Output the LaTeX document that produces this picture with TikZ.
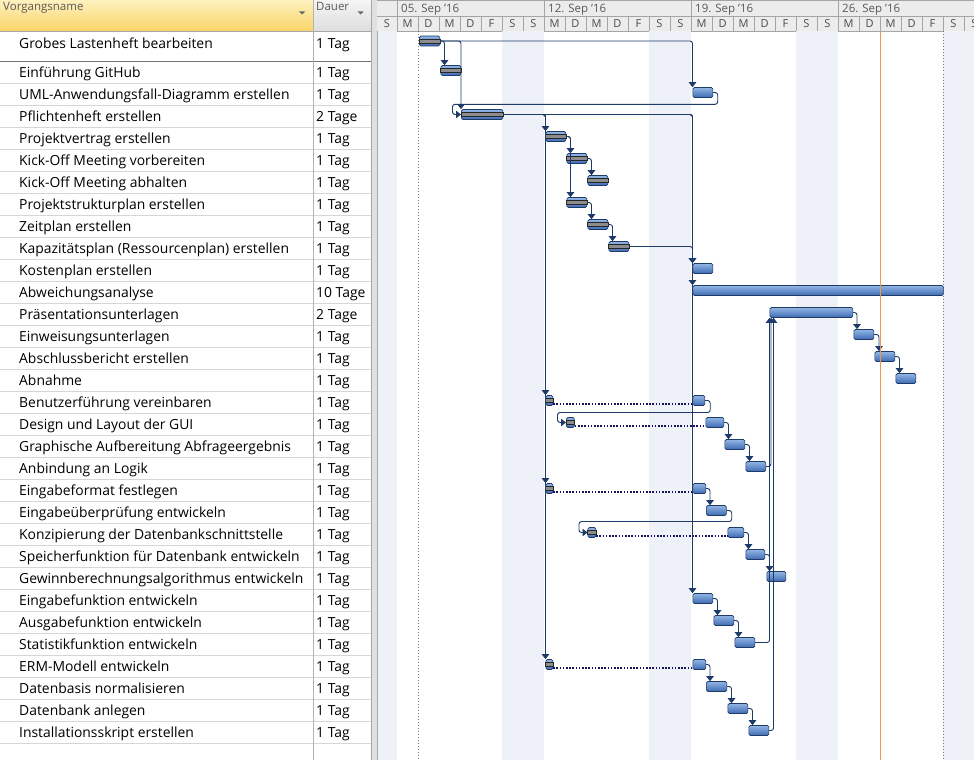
\documentclass[tikz,border=0pt]{standalone}
\usepackage{fontspec}
\setmainfont{Open Sans}
\usetikzlibrary{arrows.meta,positioning}

\definecolor{linkblue}{RGB}{30,58,104}
\definecolor{splitblue}{RGB}{20,20,95}
\definecolor{bartop}{RGB}{146,182,228}
\definecolor{barbot}{RGB}{62,106,178}
\definecolor{baredge}{RGB}{30,58,105}
\definecolor{weekend}{RGB}{238,242,248}
\definecolor{gridgray}{RGB}{212,214,216}
\definecolor{headgray}{RGB}{236,236,236}
\definecolor{headline}{RGB}{165,165,165}
\definecolor{hdrtop}{RGB}{254,242,190}
\definecolor{hdrbot}{RGB}{250,212,104}
\definecolor{todayline}{RGB}{245,150,70}

\begin{document}
\begin{tikzpicture}[x=1pt,y=-1pt,
  bar/.style={draw=baredge, line width=0.7pt, top color=bartop, bottom color=barbot,
    rounded corners=1.5pt, minimum height=10pt, inner sep=0pt, anchor=west},
  stripe/.style={fill=black!45, draw=black!85, line width=0.5pt},
  link/.style={draw=linkblue, line width=0.9pt, rounded corners=2.5pt,
    -{Triangle[width=7.5pt,length=5pt]}},
  split/.style={draw=splitblue, line width=1.9pt, dash pattern=on 1.6pt off 1.6pt},
  task/.style={anchor=base west, inner sep=0pt, font=\fontsize{13.9}{16}\selectfont},
  headtext/.style={anchor=base west, inner sep=0pt, text=black!65, font=\fontsize{11.5}{13}\selectfont},
  daytext/.style={anchor=base, inner sep=0pt, text=black!70, font=\fontsize{11}{13}\selectfont}]
\useasboundingbox (0,0) rectangle (974,760);
\clip (0,0) rectangle (974,760);
\fill[white] (0,0) rectangle (974,760);

% table header
\shade[top color=hdrtop, bottom color=hdrbot] (0,0) rectangle (313,31);
\shade[top color=black!4, bottom color=black!13] (313,0) rectangle (371,31);
\node[headtext] (hname) at (3,11) {Vorgangsname};
\node[headtext] (hdur) at (316,11) {Dauer};
\fill[black!60] (299,11.5) -- (305,11.5) -- (302,14.5) -- cycle;
\fill[black!60] (357.5,11.5) -- (363.5,11.5) -- (360.5,14.5) -- cycle;

% table grid
\foreach \y in {83,105,...,743} \draw[gridgray] (0,\y) -- (371,\y);
\draw[black!35] (0,31) -- (371,31);
\draw[black!55] (0,61) -- (371,61);
\draw[black!30] (313,0) -- (313,760);
\fill[black!12] (371,0) rectangle (377,760);
\draw[black!35] (371,0) -- (371,760);
\draw[black!35] (377,0) -- (377,760);

% timescale
\fill[headgray] (377,0) rectangle (974,31);
\draw[headline] (377,0.5) -- (974,0.5);
\draw[headline] (377,16) -- (974,16);
\draw[headline] (377,31) -- (974,31);
\foreach \x in {397,544,691,838} \draw[headline] (\x,0) -- (\x,16);
\foreach \i in {0,...,28} \draw[headline] (397+21*\i,16) -- (397+21*\i,31);
\node[headtext] (w1) at (401,13) {05. Sep '16};
\node[headtext] (w2) at (548,13) {12. Sep '16};
\node[headtext] (w3) at (695,13) {19. Sep '16};
\node[headtext] (w4) at (842,13) {26. Sep '16};
\node[daytext] at (387,27.5) {S};
\foreach \d [count=\i from 0] in {M,D,M,D,F,S,S,M,D,M,D,F,S,S,M,D,M,D,F,S,S,M,D,M,D,F,S,S}
  \node[daytext] at (407.5+21*\i,27.5) {\d};

% chart background
\fill[weekend] (377.5,31.5) rectangle (397,760);
\fill[weekend] (502,31.5) rectangle (544,760);
\fill[weekend] (649,31.5) rectangle (691,760);
\fill[weekend] (796,31.5) rectangle (838,760);
\fill[weekend] (943,31.5) rectangle (985,760);
\draw[black!50, dash pattern=on 1pt off 2pt] (418.5,31.5) -- (418.5,760);
\draw[black!50, dash pattern=on 1pt off 2pt] (943,31.5) -- (943,760);

% task names
\node[task] (t1) at (19,48.5) {Grobes Lastenheft bearbeiten};
\node[task] (t2) at (19,77.3) {Einführung GitHub};
\node[task] (t3) at (19,99.3) {UML-Anwendungsfall-Diagramm erstellen};
\node[task] (t4) at (19,121.3) {Pflichtenheft erstellen};
\node[task] (t5) at (19,143.3) {Projektvertrag erstellen};
\node[task] (t6) at (19,165.3) {Kick-Off Meeting vorbereiten};
\node[task] (t7) at (19,187.3) {Kick-Off Meeting abhalten};
\node[task] (t8) at (19,209.3) {Projektstrukturplan erstellen};
\node[task] (t9) at (19,231.3) {Zeitplan erstellen};
\node[task] (t10) at (19,253.3) {Kapazitätsplan (Ressourcenplan) erstellen};
\node[task] (t11) at (19,275.3) {Kostenplan erstellen};
\node[task] (t12) at (19,297.3) {Abweichungsanalyse};
\node[task] (t13) at (19,319.3) {Präsentationsunterlagen};
\node[task] (t14) at (19,341.3) {Einweisungsunterlagen};
\node[task] (t15) at (19,363.3) {Abschlussbericht erstellen};
\node[task] (t16) at (19,385.3) {Abnahme};
\node[task] (t17) at (19,407.3) {Benutzerführung vereinbaren};
\node[task] (t18) at (19,429.3) {Design und Layout der GUI};
\node[task] (t19) at (19,451.3) {Graphische Aufbereitung Abfrageergebnis};
\node[task] (t20) at (19,473.3) {Anbindung an Logik};
\node[task] (t21) at (19,495.3) {Eingabeformat festlegen};
\node[task] (t22) at (19,517.3) {Eingabeüberprüfung entwickeln};
\node[task] (t23) at (19,539.3) {Konzipierung der Datenbankschnittstelle};
\node[task] (t24) at (19,561.3) {Speicherfunktion für Datenbank entwickeln};
\node[task] (t25) at (19,583.3) {Gewinnberechnungsalgorithmus entwickeln};
\node[task] (t26) at (19,605.3) {Eingabefunktion entwickeln};
\node[task] (t27) at (19,627.3) {Ausgabefunktion entwickeln};
\node[task] (t28) at (19,649.3) {Statistikfunktion entwickeln};
\node[task] (t29) at (19,671.3) {ERM-Modell entwickeln};
\node[task] (t30) at (19,693.3) {Datenbasis normalisieren};
\node[task] (t31) at (19,715.3) {Datenbank anlegen};
\node[task] (t32) at (19,737.3) {Installationsskript erstellen};

% durations
\node[task] (d1) at (316,48.5) {1 Tag};
\node[task] (d2) at (316,77.3) {1 Tag};
\node[task] (d3) at (316,99.3) {1 Tag};
\node[task] (d4) at (316,121.3) {2 Tage};
\node[task] (d5) at (316,143.3) {1 Tag};
\node[task] (d6) at (316,165.3) {1 Tag};
\node[task] (d7) at (316,187.3) {1 Tag};
\node[task] (d8) at (316,209.3) {1 Tag};
\node[task] (d9) at (316,231.3) {1 Tag};
\node[task] (d10) at (316,253.3) {1 Tag};
\node[task] (d11) at (316,275.3) {1 Tag};
\node[task] (d12) at (316,297.3) {10 Tage};
\node[task] (d13) at (316,319.3) {2 Tage};
\node[task] (d14) at (316,341.3) {1 Tag};
\node[task] (d15) at (316,363.3) {1 Tag};
\node[task] (d16) at (316,385.3) {1 Tag};
\node[task] (d17) at (316,407.3) {1 Tag};
\node[task] (d18) at (316,429.3) {1 Tag};
\node[task] (d19) at (316,451.3) {1 Tag};
\node[task] (d20) at (316,473.3) {1 Tag};
\node[task] (d21) at (316,495.3) {1 Tag};
\node[task] (d22) at (316,517.3) {1 Tag};
\node[task] (d23) at (316,539.3) {1 Tag};
\node[task] (d24) at (316,561.3) {1 Tag};
\node[task] (d25) at (316,583.3) {1 Tag};
\node[task] (d26) at (316,605.3) {1 Tag};
\node[task] (d27) at (316,627.3) {1 Tag};
\node[task] (d28) at (316,649.3) {1 Tag};
\node[task] (d29) at (316,671.3) {1 Tag};
\node[task] (d30) at (316,693.3) {1 Tag};
\node[task] (d31) at (316,715.3) {1 Tag};
\node[task] (d32) at (316,737.3) {1 Tag};

% bars
\node[bar, minimum width=20.5] (b1) at (419,41) {};
\node[bar, minimum width=20] (b2) at (440.5,70.5) {};
\node[bar, minimum width=20] (b3) at (692.5,92.5) {};
\node[bar, minimum width=41.5] (b4) at (461,114.5) {};
\node[bar, minimum width=20] (b5) at (545.5,136.5) {};
\node[bar, minimum width=20] (b6) at (566.5,158.5) {};
\node[bar, minimum width=20] (b7) at (587.5,180.5) {};
\node[bar, minimum width=20] (b8) at (566.5,202.5) {};
\node[bar, minimum width=20] (b9) at (587.5,224.5) {};
\node[bar, minimum width=20] (b10) at (608.5,246.5) {};
\node[bar, minimum width=20] (b11) at (692.5,268.5) {};
\node[bar, minimum width=250.5] (b12) at (692.5,290.5) {};
\node[bar, minimum width=83] (b13) at (769.5,312.5) {};
\node[bar, minimum width=20] (b14) at (853.5,334.5) {};
\node[bar, minimum width=20] (b15) at (874.5,356.5) {};
\node[bar, minimum width=20] (b16) at (895.5,378.5) {};
\node[bar, minimum width=7] (p17) at (545.5,400.5) {};
\node[bar, minimum width=12] (b17) at (692.5,400.5) {};
\node[bar, minimum width=8] (p18) at (566,422.5) {};
\node[bar, minimum width=18] (b18) at (705.5,422.5) {};
\node[bar, minimum width=20] (b19) at (724.5,444.5) {};
\node[bar, minimum width=20] (b20) at (745.5,466.5) {};
\node[bar, minimum width=7] (p21) at (545.5,488.5) {};
\node[bar, minimum width=13] (b21) at (692.5,488.5) {};
\node[bar, minimum width=20] (b22) at (706,510.5) {};
\node[bar, minimum width=8] (p23) at (587.5,532.5) {};
\node[bar, minimum width=16] (b23) at (727.5,532.5) {};
\node[bar, minimum width=19] (b24) at (745.5,554.5) {};
\node[bar, minimum width=19] (b25) at (766.5,576.5) {};
\node[bar, minimum width=20] (b26) at (692.5,598.5) {};
\node[bar, minimum width=20] (b27) at (713.5,620.5) {};
\node[bar, minimum width=20] (b28) at (734.5,642.5) {};
\node[bar, minimum width=7] (p29) at (545.5,664.5) {};
\node[bar, minimum width=13] (b29) at (692.5,664.5) {};
\node[bar, minimum width=20.5] (b30) at (706,686.5) {};
\node[bar, minimum width=20] (b31) at (727.5,708.5) {};
\node[bar, minimum width=20] (b32) at (748.5,730.5) {};

% progress
\draw[stripe] ([yshift=1.8]b1.west) rectangle ([yshift=-1.8]b1.east);
\draw[stripe] ([yshift=1.8]b2.west) rectangle ([yshift=-1.8]b2.east);
\draw[stripe] ([yshift=1.8]b4.west) rectangle ([yshift=-1.8]b4.east);
\draw[stripe] ([yshift=1.8]b5.west) rectangle ([yshift=-1.8]b5.east);
\draw[stripe] ([yshift=1.8]b6.west) rectangle ([yshift=-1.8]b6.east);
\draw[stripe] ([yshift=1.8]b7.west) rectangle ([yshift=-1.8]b7.east);
\draw[stripe] ([yshift=1.8]b8.west) rectangle ([yshift=-1.8]b8.east);
\draw[stripe] ([yshift=1.8]b9.west) rectangle ([yshift=-1.8]b9.east);
\draw[stripe] ([yshift=1.8]b10.west) rectangle ([yshift=-1.8]b10.east);
\draw[stripe] ([yshift=1.8]p17.west) rectangle ([yshift=-1.8]p17.east);
\draw[stripe] ([yshift=1.8]p18.west) rectangle ([yshift=-1.8]p18.east);
\draw[stripe] ([yshift=1.8]p21.west) rectangle ([yshift=-1.8]p21.east);
\draw[stripe] ([yshift=1.8]p23.west) rectangle ([yshift=-1.8]p23.east);
\draw[stripe] ([yshift=1.8]p29.west) rectangle ([yshift=-1.8]p29.east);

% splits
\draw[split] ([yshift=1.5]p17.south east) -- ([yshift=1.5]b17.south west);
\draw[split] ([yshift=1.5]p18.south east) -- ([yshift=1.5]b18.south west);
\draw[split] ([yshift=1.5]p21.south east) -- ([yshift=1.5]b21.south west);
\draw[split] ([yshift=1.5]p23.south east) -- ([yshift=1.5]b23.south west);
\draw[split] ([yshift=1.5]p29.south east) -- ([yshift=1.5]b29.south west);

% links
\draw[link] (b1.east) -| ([xshift=4]b2.north west);
\draw[link] (b1.east) -| (b3.north west);
\draw[link] (b1.east) -| (b4.north west);
\draw[link] (b3.east) -- ++(4.5,0) -- ++(0,11.8) -| ([xshift=-8.5]b4.west) -- (b4.west);
\draw[link] (b4.east) -| (b5.north west);
\draw[link] (b4.east) -| (p17.north west);
\draw[link] (b4.east) -| (p21.north west);
\draw[link] (b4.east) -| (p29.north west);
\draw[link] (b4.east) -| (b11.north west);
\draw[link] (b4.east) -| (b12.north west);
\draw[link] (b4.east) -| (b26.north west);
\draw[link] (b5.east) -| ([xshift=4]b6.north west);
\draw[link] (b5.east) -| ([xshift=4]b8.north west);
\draw[link] (b6.east) -| ([xshift=4]b7.north west);
\draw[link] (b8.east) -| ([xshift=4]b9.north west);
\draw[link] (b9.east) -| ([xshift=4]b10.north west);
\draw[link] (b10.east) -| (b11.north west);
\draw[link] (b13.east) -| ([xshift=3.5]b14.north west);
\draw[link] (b14.east) -| ([xshift=4.5]b15.north west);
\draw[link] (b15.east) -| ([xshift=4]b16.north west);
\draw[link] (b17.east) -- ++(5,0) -- ++(0,12) -| ([xshift=-8.5]p18.west) -- (p18.west);
\draw[link] (b18.east) -| ([xshift=4]b19.north west);
\draw[link] (b19.east) -| ([xshift=4]b20.north west);
\draw[link] (b20.east) -| ([xshift=1.5]b13.south west);
\draw[link] (b21.east) -| ([xshift=4]b22.north west);
\draw[link] (b22.east) -- ++(5,0) -- ++(0,11) -| ([xshift=-8.5]p23.west) -- (p23.west);
\draw[link] (b23.east) -| ([xshift=3]b24.north west);
\draw[link] (b24.east) -| ([xshift=3]b25.north west);
\draw[link] (b26.east) -| ([xshift=4]b27.north west);
\draw[link] (b27.east) -| ([xshift=4]b28.north west);
\draw[link] (b28.east) -| (b13.south west);
\draw[link] (b29.east) -| ([xshift=4]b30.north west);
\draw[link] (b30.east) -| ([xshift=4]b31.north west);
\draw[link] (b31.east) -| ([xshift=4]b32.north west);
\draw[link] (b32.east) -| ([xshift=4]b13.south west);

% status date
\draw[todayline, line width=1pt] (880.5,31.5) -- (880.5,760);
\end{tikzpicture}
\end{document}
